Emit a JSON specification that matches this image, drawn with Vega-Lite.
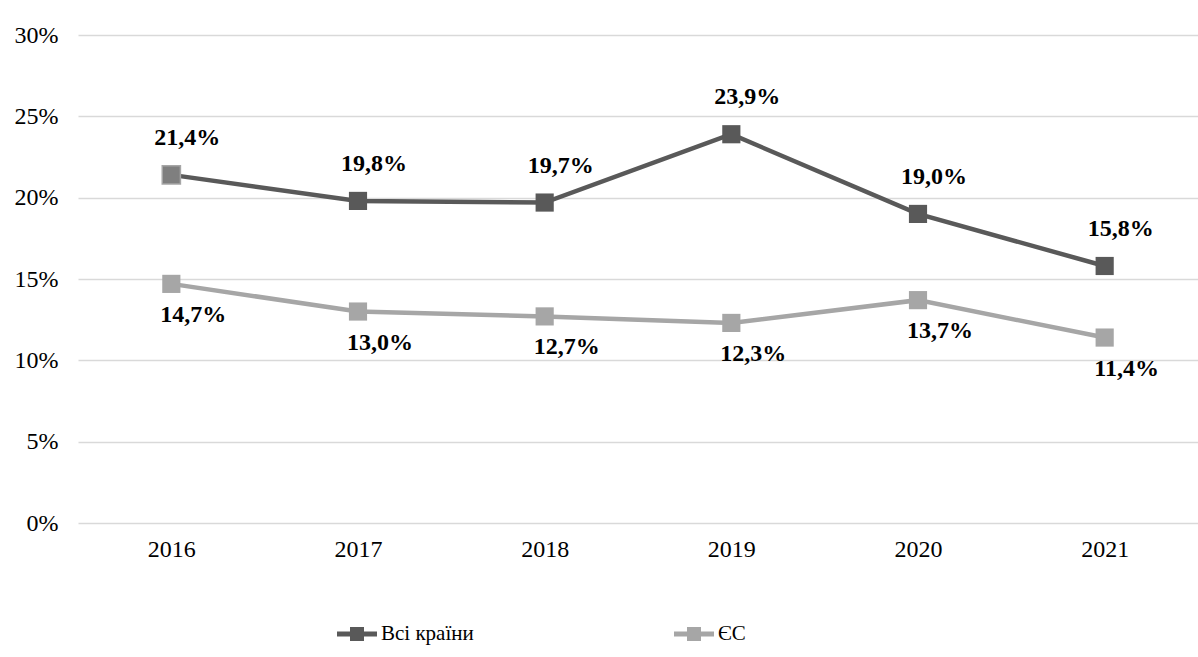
{
  "$schema": "https://vega.github.io/schema/vega-lite/v6.json",
  "width": 1120,
  "height": 488,
  "autosize": {"type": "none"},
  "padding": {"left": 78, "top": 35, "right": 0, "bottom": 134},
  "background": "white",
  "config": {
    "view": {"stroke": null},
    "font": "Liberation Serif",
    "locale": {"number": {"decimal": ",", "thousands": " ", "grouping": [3], "currency": ["", ""], "percent": "%"}},
    "axis": {"labelFont": "Liberation Serif", "labelColor": "#000000"},
    "text": {"font": "Liberation Serif"}
  },
  "data": {
    "values": [
      {"year": "2016", "series": "Всі країни", "value": 0.214},
      {"year": "2017", "series": "Всі країни", "value": 0.198},
      {"year": "2018", "series": "Всі країни", "value": 0.197},
      {"year": "2019", "series": "Всі країни", "value": 0.239},
      {"year": "2020", "series": "Всі країни", "value": 0.190},
      {"year": "2021", "series": "Всі країни", "value": 0.158},
      {"year": "2016", "series": "ЄС", "value": 0.147},
      {"year": "2017", "series": "ЄС", "value": 0.130},
      {"year": "2018", "series": "ЄС", "value": 0.127},
      {"year": "2019", "series": "ЄС", "value": 0.123},
      {"year": "2020", "series": "ЄС", "value": 0.137},
      {"year": "2021", "series": "ЄС", "value": 0.114}
    ]
  },
  "encoding": {
    "x": {
      "field": "year", "type": "ordinal",
      "scale": {"type": "point", "padding": 0.5},
      "axis": {"title": null, "labelAngle": 0, "labelFontSize": 24, "domain": false, "ticks": false, "labelPadding": 14, "grid": false}
    },
    "y": {
      "field": "value", "type": "quantitative",
      "scale": {"domain": [0, 0.3], "nice": false},
      "axis": {"title": null, "format": ".0%", "values": [0, 0.05, 0.1, 0.15, 0.2, 0.25, 0.3], "labelFontSize": 24, "domain": false, "ticks": false, "labelPadding": 20, "gridColor": "#d9d9d9", "gridWidth": 1.5}
    }
  },
  "layer": [
    {
      "mark": {"type": "line", "strokeWidth": 4.5},
      "encoding": {
        "color": {
          "field": "series", "type": "nominal",
          "scale": {"domain": ["Всі країни", "ЄС"], "range": ["#595959", "#a6a6a6"]},
          "legend": {
            "title": null, "orient": "none", "legendX": 259, "legendY": 579,
            "direction": "horizontal", "columns": 2, "columnPadding": 200,
            "symbolType": "M-1,-0.12H-0.35V-0.35H0.35V-0.12H1V0.12H0.35V0.35H-0.35V0.12H-1Z",
            "symbolSize": 1600, "symbolStrokeWidth": 0, "labelFontSize": 21, "labelFont": "Times New Roman, Liberation Serif, DejaVu Serif, serif", "labelColor": "#000000", "labelOffset": 4, "labelLimit": 300,
            "encode": {
              "symbols": {"update": {"fill": {"scale": "color", "field": "value"}, "opacity": {"value": 1}, "fillOpacity": {"value": 1}}}
            }
          }
        }
      }
    },
    {
      "mark": {"type": "square", "size": 330, "opacity": 1, "filled": true, "strokeWidth": 1.5},
      "encoding": {
        "fill": {
          "condition": {"test": "datum.year == '2016' && datum.series == 'Всі країни'", "value": "#7f7f7f"},
          "field": "series", "type": "nominal",
          "scale": {"domain": ["Всі країни", "ЄС"], "range": ["#595959", "#a6a6a6"]},
          "legend": null
        },
        "stroke": {
          "condition": {"test": "datum.year == '2016' && datum.series == 'Всі країни'", "value": "#a6a6a6"},
          "value": null
        }
      }
    },
    {
      "transform": [{"filter": "datum.series == 'Всі країни'"}],
      "mark": {"type": "text", "fontWeight": "bold", "fontSize": 24, "dy": -37, "dx": 16},
      "encoding": {"text": {"field": "value", "type": "quantitative", "format": ".1%"}, "color": {"value": "#000000"}}
    },
    {
      "transform": [{"filter": "datum.series == 'ЄС'"}],
      "mark": {"type": "text", "fontWeight": "bold", "fontSize": 24, "dy": 31, "dx": 22},
      "encoding": {"text": {"field": "value", "type": "quantitative", "format": ".1%"}, "color": {"value": "#000000"}}
    }
  ]
}
